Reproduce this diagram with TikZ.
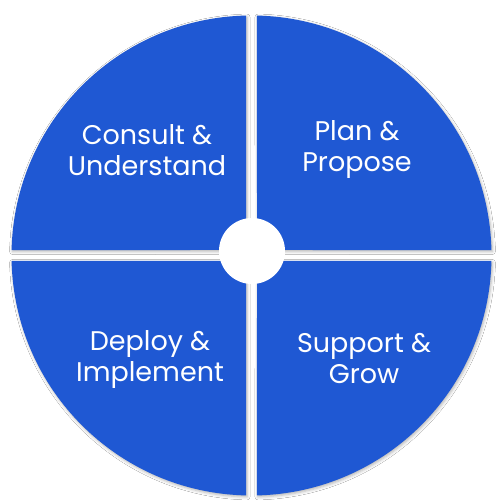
\documentclass[tikz,border=0pt]{standalone}
\usepackage{fontspec}
\setmainfont{Poppins}
\usetikzlibrary{shadows.blur}
\definecolor{qblue}{HTML}{1F58D3}
\begin{document}
\begin{tikzpicture}[x=1pt,y=1pt,
  quad/.style={fill=qblue, blur shadow={shadow xshift=1pt, shadow yshift=-1.5pt, shadow blur radius=3pt, shadow opacity=30}},
  lbl/.style={text=white, font=\fontsize{27}{31}\selectfont, align=center, inner sep=0pt}]
\useasboundingbox (0,0) rectangle (500,500);
\fill[white] (0,0) rectangle (500,500);
\coordinate (C) at (251.5,244.5);
\def\R{240}
\def\g{5.5}
\def\a{1.31}
% upper left
\path[quad] ([shift={(-\g,\g)}]C) -- ([shift={(90+\a:\R)}]C) arc[start angle=90+\a, end angle=180-\a, radius=\R] -- cycle;
% upper right
\path[quad] ([shift={(\g,\g)}]C) -- ([shift={(\a:\R)}]C) arc[start angle=\a, end angle=90-\a, radius=\R] -- cycle;
% lower left
\path[quad] ([shift={(-\g,-\g)}]C) -- ([shift={(180+\a:\R)}]C) arc[start angle=180+\a, end angle=270-\a, radius=\R] -- cycle;
% lower right
\path[quad] ([shift={(\g,-\g)}]C) -- ([shift={(270+\a:\R)}]C) arc[start angle=270+\a, end angle=360-\a, radius=\R] -- cycle;
\node[circle, fill=white, minimum size=66pt, inner sep=0pt] (hub) at (252,249) {};
\node[lbl] (consult) at (147,350) {Consult \&\\Understand};
\node[lbl] (plan) at (357,350) {Plan \&\\Propose};
\node[lbl] (deploy) at (150,140) {Deploy \&\\Implement};
\node[lbl] (support) at (364,141) {Support \&\\Grow};
\end{tikzpicture}
\end{document}
